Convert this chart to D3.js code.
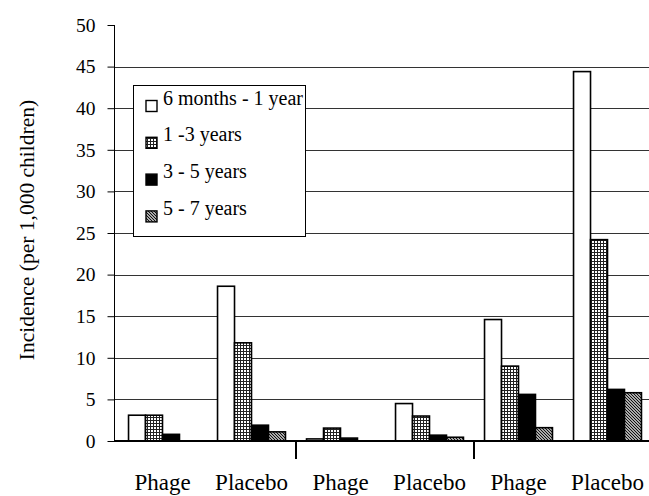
<!DOCTYPE html>
<html><head><meta charset="utf-8">
<script src="https://cdn.jsdelivr.net/npm/d3@7"></script>
<style>body{margin:0;background:#fff}svg{display:block}</style>
</head><body><svg id="c" width="649" height="496"></svg>
<script>
const categories = ["Phage1","Placebo1","Phage2","Placebo2","Phage3","Placebo3"];
const categoryLabels = ["Phage","Placebo","Phage","Placebo","Phage","Placebo"];
const seriesNames = ["6 months - 1 year","1 -3 years","3 - 5 years","5 - 7 years"];
const s6m1y = [3.1, 18.6, 0.25, 4.5, 14.6, 44.4];
const s1to3 = [3.1, 11.8, 1.55, 3.0, 9.0, 24.2];
const s3to5 = [0.8, 1.9, 0.35, 0.7, 5.6, 6.2];
const s5to7 = [0, 1.1, 0, 0.45, 1.6, 5.8];
const yTicks = [0,5,10,15,20,25,30,35,40,45,50];

const seriesValues = [s6m1y, s1to3, s3to5, s5to7];
const svg = d3.select("#c");
const defs = svg.append("defs");
const pg = defs.append("pattern").attr("id","grid").attr("patternUnits","userSpaceOnUse").attr("width",3).attr("height",3);
pg.append("rect").attr("width",3).attr("height",3).attr("fill","#fff");
pg.append("path").attr("d","M0,0.5H3M0.5,0V3").attr("stroke","#222").attr("stroke-width",1);
const ph = defs.append("pattern").attr("id","hatch").attr("patternUnits","userSpaceOnUse").attr("width",3).attr("height",3);
ph.append("rect").attr("width",3).attr("height",3).attr("fill","#aaa");
ph.append("path").attr("d","M-1,-1L4,4M-1,2L1,4M2,-1L4,1").attr("stroke","#111").attr("stroke-width",1);

const fills = ["#fff","url(#grid)","#000","url(#hatch)"];

const y = d3.scaleLinear().domain([0,50]).range([441,25]);
const x0 = d3.scaleBand().domain(categories).range([118,652]).padding(0);
const x1 = d3.scaleBand().domain(seriesNames).range([0,x0.bandwidth()]).paddingInner(0).paddingOuter(0.62);

const font = "'Liberation Serif', 'DejaVu Serif', Tinos, 'Noto Serif', FreeSerif, 'Nimbus Roman', Times, serif";

svg.append("g").selectAll("line").data(yTicks.filter(t=>t>0 && t<50)).join("line")
  .attr("x1",114).attr("x2",649).attr("y1",d=>Math.round(y(d))+0.5).attr("y2",d=>Math.round(y(d))+0.5)
  .attr("stroke","#333").attr("stroke-width",1);

const ya = svg.append("g").attr("transform","translate(114.5,0)")
  .call(d3.axisLeft(y).tickValues(yTicks).tickSize(7).tickPadding(12));
ya.attr("font-family",font);
ya.select(".domain").attr("stroke","#000").attr("d","M-0,"+y(50)+"V"+y(0));
ya.selectAll("line").attr("stroke","#000");
ya.selectAll("text").attr("font-family",font).attr("font-size",19.5).attr("fill","#000");

const g = svg.append("g");
categories.forEach((c,ci)=>{
  seriesNames.forEach((s,si)=>{
    const v = seriesValues[si][ci];
    if(v<=0) return;
    g.append("rect")
      .attr("x",x0(c)+x1(s)).attr("width",x1.bandwidth())
      .attr("y",y(v)).attr("height",y(0)-y(v))
      .attr("fill",fills[si]).attr("stroke","#000").attr("stroke-width",1.6);
  });
});

svg.append("line").attr("x1",114).attr("x2",649).attr("y1",441).attr("y2",441).attr("stroke","#000").attr("stroke-width",2);
[2,4].forEach(i=>{
  const xx = x0(categories[i]);
  svg.append("line").attr("x1",xx).attr("x2",xx).attr("y1",441).attr("y2",459).attr("stroke","#000").attr("stroke-width",2);
});
svg.append("g").selectAll("text").data(categories).join("text")
  .attr("x",d=>x0(d)+x0.bandwidth()/2).attr("y",490)
  .attr("text-anchor","middle").attr("font-family",font).attr("font-size",23)
  .text((d,i)=>categoryLabels[i]);

svg.append("text").attr("transform","translate(34,230) rotate(-90)")
  .attr("text-anchor","middle").attr("font-family",font).attr("font-size",21.5)
  .text("Incidence (per 1,000 children)");

const lg = svg.append("g");
lg.append("rect").attr("x",133.5).attr("y",85.5).attr("width",172).attr("height",151)
  .attr("fill","#fff").attr("stroke","#000").attr("stroke-width",1);
seriesNames.forEach((s,i)=>{
  const base = 104.5 + i*36.8;
  lg.append("rect").attr("x",146).attr("y",base-4).attr("width",11).attr("height",11)
    .attr("fill",fills[i]).attr("stroke","#000").attr("stroke-width",1.4);
  lg.append("text").attr("x",163).attr("y",base)
    .attr("font-family",font).attr("font-size",20).text(s);
});
</script></body></html>
